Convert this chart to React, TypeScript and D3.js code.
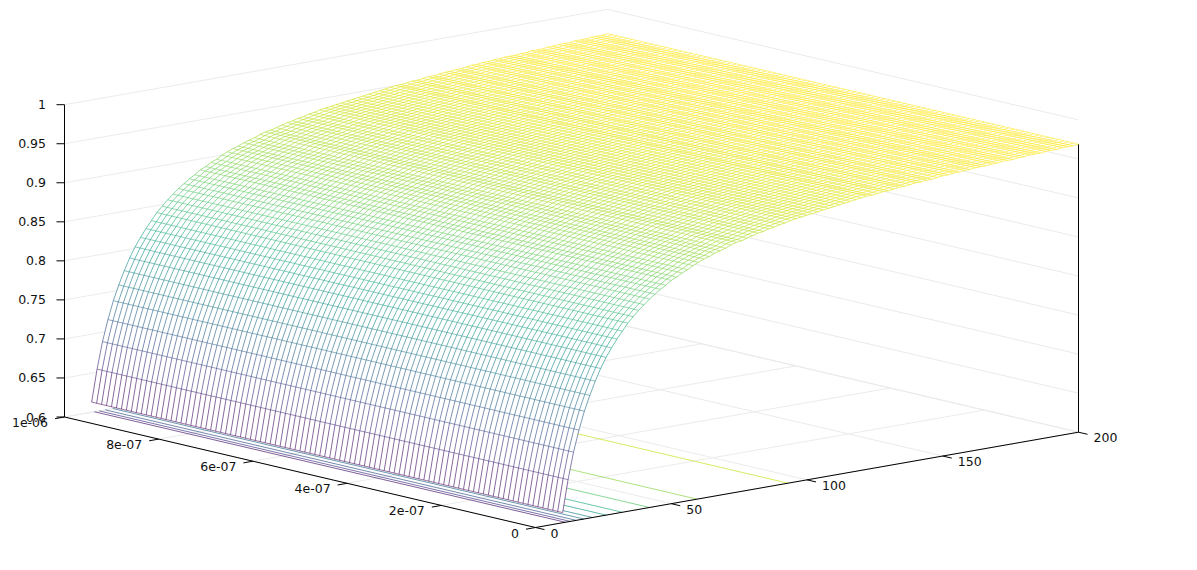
import React, { useEffect, useRef } from 'react';
import * as d3 from 'd3';

const xTicks = [0, 50, 100, 150, 200];
const yTicks = [0, 2e-7, 4e-7, 6e-7, 8e-7, 1e-6];
const yTickLabels = ['0', '2e-07', '4e-07', '6e-07', '8e-07', '1e-06'];
const zTicks = [0.6, 0.65, 0.7, 0.75, 0.8, 0.85, 0.9, 0.95, 1];
const zTickLabels = ['0.6', '0.65', '0.7', '0.75', '0.8', '0.85', '0.9', '0.95', '1'];

const xStart = 10;
const xStep = 2;
const zValues = [
  0.613, 0.654, 0.688, 0.715, 0.738, 0.757, 0.774, 0.789, 0.802, 0.813,
  0.823, 0.832, 0.841, 0.848, 0.855, 0.861, 0.867, 0.872, 0.877, 0.881,
  0.886, 0.889, 0.893, 0.896, 0.9, 0.903, 0.906, 0.908, 0.911, 0.913,
  0.915, 0.918, 0.92, 0.921, 0.923, 0.925, 0.927, 0.928, 0.93, 0.931,
  0.933, 0.934, 0.936, 0.937, 0.938, 0.939, 0.94, 0.941, 0.942, 0.943,
  0.944, 0.945, 0.946, 0.947, 0.948, 0.949, 0.95, 0.95, 0.951, 0.952,
  0.952, 0.953, 0.954, 0.954, 0.955, 0.956, 0.956, 0.957, 0.957, 0.958,
  0.959, 0.959, 0.96, 0.96, 0.961, 0.961, 0.962, 0.962, 0.962, 0.963,
  0.963, 0.964, 0.964, 0.964, 0.965, 0.965, 0.966, 0.966, 0.966, 0.967,
  0.967, 0.967, 0.968, 0.968, 0.968, 0.969
];
const xSamples = zValues.map((_, i) => xStart + i * xStep);
const ySampleCount = 96;

// contour lines on the base plane
const contourX = [11, 12.8, 15, 17.8, 21, 26, 32, 42, 59.5, 93];
const contourZ = [0.635, 0.6685, 0.702, 0.7355, 0.769, 0.8025, 0.836, 0.8695, 0.903, 0.9365];

const width = 1197;
const height = 570;
const front = { x: 535.5, y: 527.5 };
const right = { x: 1078.5, y: 432.2 };
const left = { x: 64.5, y: 417 };

const App = () => {
  const svgRef = useRef(null);

  useEffect(() => {
    const svg = d3.select(svgRef.current);
    svg.selectAll('*').remove();

    const xScale = d3.scaleLinear().domain([0, 200]).range([0, 1]);
    const yScale = d3.scaleLinear().domain([0, 1e-6]).range([0, 1]);
    const zScale = d3.scaleLinear().domain([0.6, 1]).range([0, -312.3]);
    const color = d3.scaleSequential(d3.interpolateViridis).domain([0.61, 0.965]).clamp(true);

    // oblique box: x runs front -> right, y runs front -> left, z goes straight up
    const project = (x: number, y: number, z: number): [number, number] => {
      const u = xScale(x);
      const v = yScale(y);
      return [
        front.x + u * (right.x - front.x) + v * (left.x - front.x),
        front.y + u * (right.y - front.y) + v * (left.y - front.y) + zScale(z)
      ];
    };
    const line = d3.line();

    // Grid
    const grid = svg.append('g').attr('fill', 'none').attr('stroke', '#ebebeb').attr('stroke-width', 1);
    zTicks.forEach(z => {
      grid.append('path').attr('d', line([project(0, 1e-6, z), project(200, 1e-6, z), project(200, 0, z)]));
    });
    xTicks.forEach(x => {
      grid.append('path').attr('d', line([project(x, 0, 0.6), project(x, 1e-6, 0.6)]));
    });
    yTicks.forEach(y => {
      grid.append('path').attr('d', line([project(0, y, 0.6), project(200, y, 0.6)]));
    });

    // Contours on the base
    const contours = svg.append('g').attr('fill', 'none').attr('stroke-width', 0.7);
    contourX.forEach((x, i) => {
      contours.append('path')
        .attr('d', line([project(x, 0, 0.6), project(x, 1e-6, 0.6)]))
        .attr('stroke', color(contourZ[i]));
    });

    // Axes
    const axes = svg.append('g').attr('fill', 'none').attr('stroke', '#000').attr('stroke-width', 1);
    axes.append('path').attr('d', line([project(0, 1e-6, 0.6), project(0, 0, 0.6), project(200, 0, 0.6)]));
    axes.append('path').attr('d', line([project(200, 0, 0.6), project(200, 0, zValues[zValues.length - 1])]));
    axes.append('path').attr('d', line([project(0, 1e-6, 0.6), project(0, 1e-6, 1)]));

    const labels = svg.append('g')
      .attr('font-family', '"DejaVu Sans", sans-serif')
      .attr('font-size', 12.5)
      .attr('fill', '#111');

    zTicks.forEach((z, i) => {
      const [px, py] = project(0, 1e-6, z);
      axes.append('path').attr('d', line([[px - 8, py], [px, py]]));
      labels.append('text').attr('x', px - 18.5).attr('y', py + 4.5).attr('text-anchor', 'end').text(zTickLabels[i]);
    });
    xTicks.forEach(x => {
      const [px, py] = project(x, 0, 0.6);
      axes.append('path').attr('d', line([[px, py], [px + 9, py + 2.1]]));
      labels.append('text').attr('x', px + 15).attr('y', py + 10).text(String(x));
    });
    yTicks.forEach((y, i) => {
      const [px, py] = project(0, y, 0.6);
      axes.append('path').attr('d', line([[px, py], [px - 9.5, py + 1.7]]));
      labels.append('text').attr('x', px - 16.5).attr('y', py + 10).attr('text-anchor', 'end').text(yTickLabels[i]);
    });

    // Surface: white backing hides what lies behind, then the mesh on top
    const ySamples = d3.range(ySampleCount).map(i => (i / (ySampleCount - 1)) * 1e-6);
    const outline = [
      ...xSamples.map((x, i) => project(x, 1e-6, zValues[i])),
      ...xSamples.map((x, i) => project(x, 0, zValues[i])).reverse()
    ];
    svg.append('path').attr('d', line(outline) + 'Z').attr('fill', '#fff');

    // lines of constant y, one path per x interval since colour follows z
    const meshY = svg.append('g').attr('fill', 'none').attr('stroke-width', 0.65);
    xSamples.slice(0, -1).forEach((x, i) => {
      const d = ySamples
        .map(y => line([project(x, y, zValues[i]), project(xSamples[i + 1], y, zValues[i + 1])]))
        .join('');
      meshY.append('path').attr('d', d).attr('stroke', color((zValues[i] + zValues[i + 1]) / 2));
    });
    // lines of constant x
    const meshX = svg.append('g').attr('fill', 'none').attr('stroke-width', 0.55);
    xSamples.forEach((x, i) => {
      meshX.append('path')
        .attr('d', line([project(x, 0, zValues[i]), project(x, 1e-6, zValues[i])]))
        .attr('stroke', color(zValues[i]));
    });
  }, []);

  return (
    <svg
      ref={svgRef}
      width={width}
      height={height}
      style={{ position: 'absolute', left: 0, top: 0, background: '#fff' }}
    />
  );
};

export default App;
